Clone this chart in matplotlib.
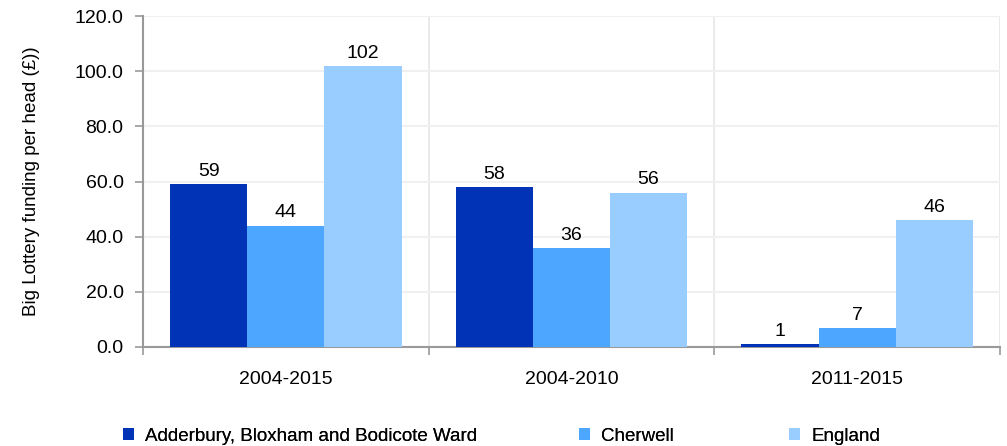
import numpy as np
import matplotlib
matplotlib.use('Agg')
import matplotlib.pyplot as plt
from matplotlib.ticker import FormatStrFormatter, MultipleLocator

# ----------------------------- Data -----------------------------
periods = ['2004-2015', '2004-2010', '2011-2015']
series_names = ['Adderbury, Bloxham and Bodicote Ward', 'Cherwell', 'England']
ward = [59, 58, 1]
cherwell = [44, 36, 7]
england = [102, 56, 46]

colors = ['#0033B5', '#4DA6FF', '#99CCFF']
# ----------------------------------------------------------------

plt.rcParams['font.family'] = ['Liberation Sans', 'DejaVu Sans']
plt.rcParams['font.size'] = 14

fig = plt.figure(figsize=(10.07, 4.46), dpi=100)
ax = fig.add_axes([0.142, 0.222, 0.851, 0.742])

x = np.arange(len(periods))
width = 0.27
handles = []
for i, (vals, name) in enumerate(zip([ward, cherwell, england], series_names)):
    bars = ax.bar(x + (i - 1) * width, vals, width, color=colors[i], label=name, zorder=3)
    ax.bar_label(bars, labels=[str(v) for v in vals], padding=3, fontsize=14)
    handles.append(bars)

ax.set_xlim(-0.5, len(periods) - 0.5)
ax.set_ylim(0, 120)
ax.yaxis.set_major_locator(MultipleLocator(20))
ax.yaxis.set_major_formatter(FormatStrFormatter('%.1f'))
ax.set_ylabel('Big Lottery funding per head (£))', fontsize=13.5, labelpad=25)

# category labels at centres, tick marks on the group boundaries
ax.set_xticks(x)
ax.set_xticklabels(periods, fontsize=14)
ax.tick_params(axis='x', which='major', length=0, pad=17)
ax.set_xticks(np.arange(len(periods) + 1) - 0.5, minor=True)
ax.tick_params(axis='x', which='minor', length=6, color='#999999', width=1.2)
ax.tick_params(axis='y', length=6, color='#999999', width=1.2, pad=8, labelsize=14)

ax.grid(axis='y', color='#f0f0f0', linewidth=1.5, zorder=0)
ax.grid(axis='x', which='minor', color='#e6e6e6', linewidth=1.2, zorder=0)

for side in ['top', 'right']:
    ax.spines[side].set_visible(False)
for side in ['left', 'bottom']:
    ax.spines[side].set_color('#999999')
    ax.spines[side].set_linewidth(1.5)

# one legend entry per series, spread along the bottom
legend_x = [0.105, 0.558, 0.767]
for h, name, lx in zip(handles, series_names, legend_x):
    fig.add_artist(fig.legend([h], [name], loc='lower left', bbox_to_anchor=(lx, -0.035),
                              frameon=False, handlelength=0.6, handleheight=0.6,
                              handletextpad=0.6, fontsize=13.5))

fig.savefig('out.png', dpi=100)
